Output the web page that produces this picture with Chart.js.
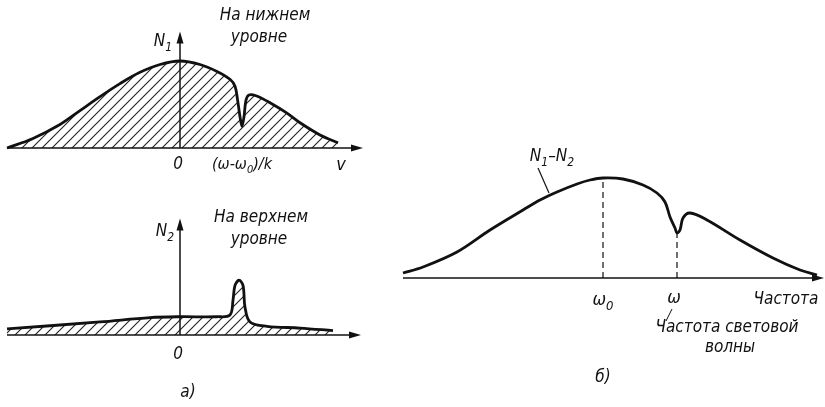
<!DOCTYPE html>
<html>
<head>
<meta charset="utf-8">
<script src="https://cdn.jsdelivr.net/npm/chart.js@4.4.1/dist/chart.umd.min.js"></script>
<style>
  html, body { margin: 0; padding: 0; background: #fff; }
  #wrap { position: relative; width: 825px; height: 407px; }
  #wrap canvas { position: absolute; left: 0; top: 0; }
</style>
</head>
<body>
<div id="wrap">
  <canvas id="lowerLevel" width="825" height="407"></canvas>
  <canvas id="upperLevel" width="825" height="407"></canvas>
  <canvas id="difference" width="825" height="407"></canvas>
</div>
<script>
// N1(v): population of the lower level vs. velocity, with the burned hole
const lowerV  = [-8.65, -7.35, -6.0, -5.0, -4.0, -3.0, -2.0, -1.0, 0, 1.0, 1.85, 2.5, 2.75, 2.88, 3.0, 3.1, 3.2, 3.3, 3.45, 3.8, 4.5, 5.35, 6.0, 7.0, 7.9];
const lowerN1 = [0, 0.11, 0.27, 0.43, 0.59, 0.74, 0.87, 0.96, 1.0, 0.96, 0.88, 0.79, 0.71, 0.55, 0.36, 0.25, 0.36, 0.55, 0.61, 0.60, 0.52, 0.40, 0.29, 0.15, 0.06];

// N2(v): population of the upper level, with the matching peak
const upperV  = [-8.65, -4.0, -1.5, 0, 1.85, 2.5, 2.65, 2.75, 2.95, 3.15, 3.25, 3.5, 4.35, 6.0, 7.65];
const upperN2 = [0.07, 0.15, 0.20, 0.21, 0.21, 0.23, 0.40, 0.57, 0.63, 0.57, 0.32, 0.15, 0.10, 0.08, 0.05];

// N1 - N2 vs. frequency
const freq  = [-10, -9, -7.3, -5.65, -4.0, -3.15, -2.3, -1.3, -0.65, 0, 1.0, 2.0, 2.7, 3.1, 3.35, 3.6, 3.7, 3.85, 4.0, 4.35, 5.2, 6.85, 8.5, 9.85, 10.7];
const diffN = [0.05, 0.11, 0.26, 0.48, 0.68, 0.78, 0.86, 0.94, 0.98, 1.0, 0.99, 0.93, 0.85, 0.76, 0.61, 0.50, 0.45, 0.48, 0.60, 0.65, 0.58, 0.38, 0.20, 0.08, 0.03];

const dipV = 3.1;        // (ω - ω0)/k
const omega0 = 0;
const omegaLight = 3.7;

const INK = '#111';
const FONT = '"DejaVu Sans Condensed", "Liberation Sans Narrow", "DejaVu Sans", sans-serif';

function hatch(ctx) {
  const c = document.createElement('canvas');
  c.width = 10; c.height = 10;
  const g = c.getContext('2d');
  g.strokeStyle = '#222';
  g.lineWidth = 1.1;
  g.beginPath();
  g.moveTo(-1, 11); g.lineTo(11, -1);
  g.moveTo(-1, 1); g.lineTo(1, -1);
  g.moveTo(9, 11); g.lineTo(11, 9);
  g.stroke();
  return ctx.createPattern(c, 'repeat');
}

// text with "_x" subscripts, centred on (x, y)
function label(ctx, str, x, y, size) {
  const parts = [];
  for (let i = 0; i < str.length; i++) {
    if (str[i] === '_') { parts.push([str[i + 1], true]); i++; }
    else parts.push([str[i], false]);
  }
  const big = 'italic ' + size + 'px ' + FONT;
  const small = 'italic ' + Math.round(size * 0.7) + 'px ' + FONT;
  let w = 0;
  parts.forEach(([t, sub]) => { ctx.font = sub ? small : big; w += ctx.measureText(t).width; });
  let cx = x - w / 2;
  ctx.fillStyle = INK;
  ctx.textBaseline = 'middle';
  ctx.textAlign = 'left';
  parts.forEach(([t, sub]) => {
    ctx.font = sub ? small : big;
    ctx.fillText(t, cx, sub ? y + size * 0.35 : y);
    cx += ctx.measureText(t).width;
  });
}

function line(ctx, x1, y1, x2, y2, w) {
  ctx.beginPath();
  ctx.moveTo(x1, y1); ctx.lineTo(x2, y2);
  ctx.lineWidth = w; ctx.strokeStyle = INK; ctx.stroke();
}

function arrow(ctx, x, y, dir) {
  ctx.beginPath();
  if (dir === 'right') { ctx.moveTo(x, y); ctx.lineTo(x - 12, y - 3.5); ctx.lineTo(x - 12, y + 3.5); }
  else { ctx.moveTo(x, y); ctx.lineTo(x - 3.5, y + 12); ctx.lineTo(x + 3.5, y + 12); }
  ctx.closePath();
  ctx.fillStyle = INK; ctx.fill();
}

// every panel covers the whole page; the scale limits place it
function makeChart(id, xs, ys, lim, filled, extras) {
  const ctx = document.getElementById(id).getContext('2d');
  return new Chart(ctx, {
    type: 'line',
    data: {
      datasets: [{
        data: xs.map((x, i) => ({ x: x, y: ys[i] })),
        borderColor: INK,
        borderWidth: 2.8,
        pointRadius: 0,
        tension: 0.35,
        fill: filled ? 'origin' : false,
        backgroundColor: filled ? hatch(ctx) : 'transparent',
      }],
    },
    options: {
      responsive: false,
      animation: false,
      events: [],
      layout: { padding: 0 },
      plugins: { legend: { display: false }, tooltip: { enabled: false } },
      scales: {
        x: { type: 'linear', display: false, min: lim[0], max: lim[1] },
        y: { type: 'linear', display: false, min: lim[2], max: lim[3] },
      },
    },
    plugins: [{ id: 'axes', afterDatasetsDraw: (chart) => extras(chart) }],
  });
}

// a) lower level
makeChart('lowerLevel', lowerV, lowerN1, [-9, 32.25, -2.977, 1.7011], true, (chart) => {
  const c = chart.ctx, sx = chart.scales.x, sy = chart.scales.y;
  const x0 = sx.getPixelForValue(0), y0 = sy.getPixelForValue(0);
  line(c, sx.getPixelForValue(-8.65), y0, 352, y0, 1.5);
  arrow(c, 363, y0, 'right');
  line(c, x0, y0, x0, sy.getPixelForValue(1.25), 1.5);
  arrow(c, x0, sy.getPixelForValue(1.34), 'up');
  label(c, 'N_1', 163, 42, 17);
  label(c, 'На нижнем', 265, 16, 17);
  label(c, 'уровне', 259, 38, 17);
  label(c, '0', x0 - 2, 165, 17);
  label(c, '(ω-ω_0)/k', sx.getPixelForValue(dipV), 165, 16);
  label(c, 'v', 341, 165, 18);
});

// a) upper level
makeChart('upperLevel', upperV, upperN2, [-9, 32.25, -0.8276, 3.8506], true, (chart) => {
  const c = chart.ctx, sx = chart.scales.x, sy = chart.scales.y;
  const x0 = sx.getPixelForValue(0), y0 = sy.getPixelForValue(0);
  line(c, sx.getPixelForValue(-8.65), y0, 350, y0, 1.5);
  arrow(c, 361, y0, 'right');
  line(c, x0, y0, x0, sy.getPixelForValue(1.25), 1.5);
  arrow(c, x0, sy.getPixelForValue(1.34), 'up');
  label(c, 'N_2', 165, 232, 17);
  label(c, 'На верхнем', 261, 218, 17);
  label(c, 'уровне', 259, 240, 17);
  label(c, '0', x0 - 2, 355, 17);
  label(c, 'а)', 188, 393, 17);
});

// б) difference N1 - N2 vs frequency
makeChart('difference', freq, diffN, [-30.15, 11.1, -1.29, 2.78], false, (chart) => {
  const c = chart.ctx, sx = chart.scales.x, sy = chart.scales.y;
  const y0 = sy.getPixelForValue(0);
  line(c, sx.getPixelForValue(-10), y0, 812, y0, 1.5);
  arrow(c, 824, y0, 'right');
  c.save();
  c.setLineDash([6, 4]);
  [[omega0, 1.0], [omegaLight, 0.45]].forEach(([f, v]) => {
    const px = sx.getPixelForValue(f);
    line(c, px, y0, px, sy.getPixelForValue(v), 1.2);
  });
  c.restore();
  label(c, 'N_1–N_2', 552, 157, 17);
  line(c, 538, 168, 549, 193, 1.2);
  label(c, 'ω_0', sx.getPixelForValue(omega0), 300, 18);
  label(c, 'ω', sx.getPixelForValue(omegaLight) - 3, 298, 18);
  label(c, 'Частота', 786, 300, 17);
  line(c, 672, 309, 666, 321, 1);
  label(c, 'Частота световой', 727, 328, 17);
  label(c, 'волны', 730, 348, 17);
  label(c, 'б)', 603, 378, 17);
});
</script>
</body>
</html>
